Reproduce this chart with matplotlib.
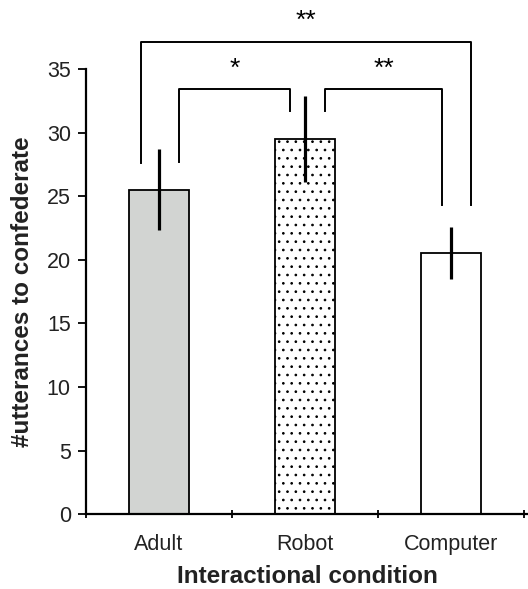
import matplotlib
matplotlib.use("Agg")
import matplotlib.pyplot as plt

plt.rcParams['font.family'] = ['Liberation Sans', 'DejaVu Sans']
plt.rcParams['hatch.linewidth'] = 0.7

# data
conditions = ["Adult", "Robot", "Computer"]
means = [25.5, 29.5, 20.5]
errors = [3.2, 3.4, 2.05]
colors = ["#d2d4d2", "white", "white"]
hatches = [None, "..", None]

# significance brackets: (x_left, x_right, y_top, y_left_end, y_right_end, label)
brackets = [
    (-0.126, 2.14, 37.1, 27.6, 24.3, "**"),
    (0.137, 0.90, 33.4, 27.7, 31.7, "*"),
    (1.14, 1.94, 33.4, 31.7, 24.3, "**"),
]

fig = plt.figure(figsize=(5.28, 5.89), dpi=100)
ax = fig.add_axes([0.163, 0.127, 0.837, 0.756])

x = range(len(conditions))
for i in x:
    ax.bar(i, means[i], width=0.41, color=colors[i], edgecolor="black",
           linewidth=1.3, hatch=hatches[i], zorder=2)
    ax.plot([i, i], [means[i] - errors[i], means[i] + errors[i]],
            color="black", lw=2.3, zorder=3, solid_capstyle="butt")

for xl, xr, yt, yl, yr, lab in brackets:
    ax.plot([xl, xl, xr, xr], [yl, yt, yt, yr], color="black", lw=1.4,
            clip_on=False, zorder=3)
    ax.text((xl + xr) / 2, yt + 0.7, lab, ha="center", va="bottom",
            fontsize=19, clip_on=False)

ax.set_ylim(0, 35)
ax.set_xlim(-0.5, 2.53)
ax.set_yticks(range(0, 36, 5))
ax.set_xticks([-0.5, 0.5, 1.5, 2.5])
ax.set_xticklabels([])
ax.set_xticks(list(x), minor=True)
ax.set_xticklabels(conditions, minor=True, fontsize=15.5, color="#222222")
ax.tick_params(axis="x", which="minor", length=0, pad=14)
ax.tick_params(axis="x", which="major", length=6, width=1.3, direction="inout")
ax.tick_params(axis="y", length=6, width=1.3, labelsize=15.5, direction="out",
               labelcolor="#222222", pad=5)

for s in ["top", "right"]:
    ax.spines[s].set_visible(False)
for s in ["left", "bottom"]:
    ax.spines[s].set_linewidth(1.6)

ax.set_xlabel("Interactional condition", fontsize=17.5, fontweight="bold",
              labelpad=7.5, color="#222222")
ax.set_ylabel("#utterances to confederate", fontsize=17.5, fontweight="bold",
              labelpad=9, color="#222222")

plt.savefig("out.png", dpi=100)
